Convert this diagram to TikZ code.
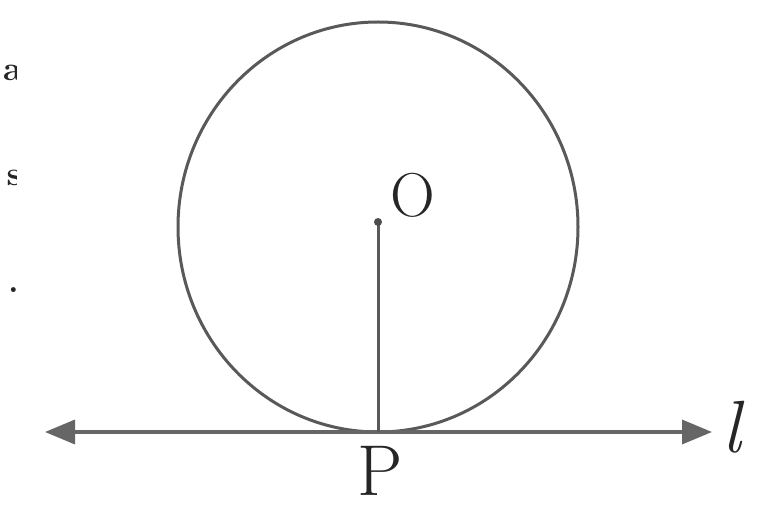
\documentclass[tikz,border=0pt]{standalone}
\usetikzlibrary{arrows.meta}
\begin{document}
\begin{tikzpicture}[x=1pt,y=-1pt,
  curve/.style={draw=black!65,line width=3pt},
  tangent/.style={draw=black!60,line width=3.5pt,{Triangle[length=30pt,width=24pt]}-{Triangle[length=30pt,width=24pt]}},
  lbl/.style={inner sep=0pt,text=black!85}]
\fill[white] (0,0) rectangle (774,521);
\useasboundingbox (0,0) rectangle (774,521);
\coordinate (O) at (378,222);
\coordinate (P) at (378,432);
\coordinate (L) at (45,432);
\coordinate (R) at (712,432);
\draw[curve] (378,227) ellipse [x radius=200, y radius=205];
\draw[tangent] (L) -- (R);
\draw[curve] (O) -- (P);
\fill[black!70] (O) circle (4);
\node[lbl,anchor=south west,font=\fontsize{62}{62}\selectfont] (olbl) at (390,218) {O};
\node[lbl,anchor=north,font=\fontsize{72}{72}\selectfont] (plbl) at (380,446) {P};
\node[lbl,anchor=base west,font=\fontsize{74}{74}\selectfont\itshape] (llbl) at (722,452) {l};
\begin{scope}
\clip (0,0) rectangle (16,521);
\node[lbl,anchor=east,font=\fontsize{34}{34}\selectfont\bfseries] (f1) at (22,73) {a};
\node[lbl,anchor=east,font=\fontsize{34}{34}\selectfont\bfseries] (f2) at (22,178) {s};
\node[lbl,anchor=east,font=\fontsize{34}{34}\selectfont\bfseries] (f3) at (19,290) {.};
\end{scope}
\end{tikzpicture}
\end{document}
